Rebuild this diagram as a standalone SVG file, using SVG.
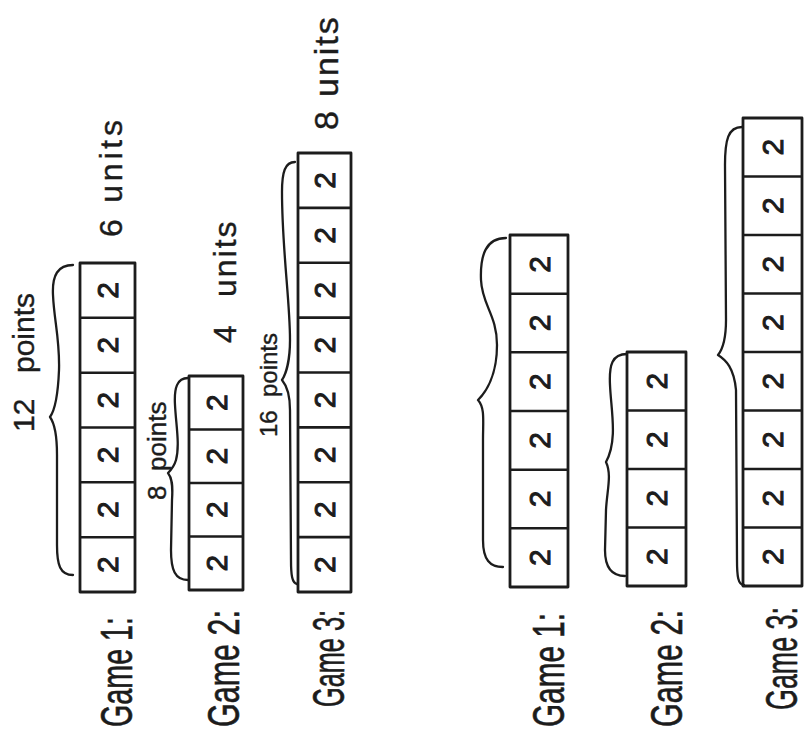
<svg xmlns="http://www.w3.org/2000/svg" width="809" height="731" viewBox="0 0 809 731">
<style>
.box{fill:#fff;stroke:#1c1c1c;stroke-width:2.8;stroke-linejoin:round}
.div{stroke:#1c1c1c;stroke-width:2.6;fill:none}
.brace{fill:none;stroke:#1c1c1c;stroke-width:2.3;stroke-linecap:round;stroke-linejoin:round}
.d{font-family:"Liberation Sans",Arial,sans-serif;font-size:30px;fill:#1c1c1c;stroke:#1c1c1c;stroke-width:1;text-anchor:middle;dominant-baseline:central}
.lbl{font-family:"Liberation Sans",Arial,sans-serif;font-size:44px;fill:#1c1c1c;stroke:#1c1c1c;stroke-width:0.6}
.ann{font-family:"Liberation Sans",Arial,sans-serif;fill:#1c1c1c;stroke:#1c1c1c;stroke-width:0.4}
</style>
<rect width="809" height="731" fill="#fff"/>

<!-- LEFT: Game 1 -->
<g id="left-game1">
<rect class="box" x="80" y="263" width="55" height="329"/>
<path class="div" d="M80 317.8H135M80 372.7H135M80 427.5H135M80 482.3H135M80 537.2H135"/>
<text class="d" transform="translate(107.5,290.4) rotate(-90)">2</text>
<text class="d" transform="translate(107.5,345.2) rotate(-90)">2</text>
<text class="d" transform="translate(107.5,400.1) rotate(-90)">2</text>
<text class="d" transform="translate(107.5,454.9) rotate(-90)">2</text>
<text class="d" transform="translate(107.5,509.7) rotate(-90)">2</text>
<text class="d" transform="translate(107.5,564.6) rotate(-90)">2</text>
<path class="brace" d="M73 265 C58 265 52 275 53 295 C54 320 60 340 59 370 C58 395 55 410 50 417 C55 424 57 435 57 455 L57 545 C57 565 60 575 73 575"/>
<text class="lbl" transform="translate(132,727) rotate(-90)" textLength="110" lengthAdjust="spacingAndGlyphs">Game 1:</text>
<text class="ann" font-size="30" transform="translate(34,432) rotate(-90)"><tspan x="0">12</tspan><tspan x="59">points</tspan></text>
<text class="ann" font-size="32" transform="translate(122,237) rotate(-90)" textLength="117" lengthAdjust="spacing">6 units</text>
</g>

<!-- LEFT: Game 2 -->
<g id="left-game2">
<rect class="box" x="189" y="376" width="54" height="214"/>
<path class="div" d="M189 429.5H243M189 483H243M189 536.5H243"/>
<text class="d" transform="translate(216,402.75) rotate(-90)">2</text>
<text class="d" transform="translate(216,456.25) rotate(-90)">2</text>
<text class="d" transform="translate(216,509.75) rotate(-90)">2</text>
<text class="d" transform="translate(216,563.25) rotate(-90)">2</text>
<path class="brace" d="M188 378 C177 378 174 388 175 405 C176 425 180 445 176 460 C174 467 171 470 168 473 C172 478 173 485 172 500 L171 550 C171 570 175 580 188 580"/>
<text class="lbl" transform="translate(239,727) rotate(-90)" textLength="117" lengthAdjust="spacingAndGlyphs">Game 2:</text>
<text class="ann" font-size="26" transform="translate(166,500) rotate(-90)"><tspan x="0">8</tspan><tspan x="29">points</tspan></text>
<text class="ann" font-size="32" transform="translate(236,343) rotate(-90)"><tspan x="0">4</tspan><tspan x="46" letter-spacing="2">units</tspan></text>
</g>

<!-- LEFT: Game 3 -->
<g id="left-game3">
<rect class="box" x="298" y="153" width="53" height="439"/>
<path class="div" d="M298 207.9H351M298 262.8H351M298 317.6H351M298 372.5H351M298 427.4H351M298 482.3H351M298 537.1H351"/>
<text class="d" transform="translate(324.5,180.4) rotate(-90)">2</text>
<text class="d" transform="translate(324.5,235.3) rotate(-90)">2</text>
<text class="d" transform="translate(324.5,290.2) rotate(-90)">2</text>
<text class="d" transform="translate(324.5,345.1) rotate(-90)">2</text>
<text class="d" transform="translate(324.5,400) rotate(-90)">2</text>
<text class="d" transform="translate(324.5,454.8) rotate(-90)">2</text>
<text class="d" transform="translate(324.5,509.7) rotate(-90)">2</text>
<text class="d" transform="translate(324.5,564.6) rotate(-90)">2</text>
<path class="brace" d="M295 162 C285 162 282 172 282 192 C282 250 290 300 290 340 C290 360 286 374 282 380 C287 386 290 395 290 410 L291 560 C291 575 292 583 297 584"/>
<text class="lbl" transform="translate(344,707) rotate(-90)" textLength="97" lengthAdjust="spacingAndGlyphs">Game 3:</text>
<text class="ann" font-size="24" transform="translate(277,437) rotate(-90)"><tspan x="0">16</tspan><tspan x="40">points</tspan></text>
<text class="ann" font-size="34" transform="translate(338,130) rotate(-90)"><tspan x="0">8</tspan><tspan x="33" letter-spacing="2">units</tspan></text>
</g>

<!-- RIGHT: Game 1 -->
<g id="right-game1">
<rect class="box" x="510" y="235" width="58" height="352"/>
<path class="div" d="M510 293.7H568M510 352.3H568M510 411H568M510 469.7H568M510 528.3H568"/>
<text class="d" transform="translate(539,264.3) rotate(-90)">2</text>
<text class="d" transform="translate(539,323) rotate(-90)">2</text>
<text class="d" transform="translate(539,381.7) rotate(-90)">2</text>
<text class="d" transform="translate(539,440.3) rotate(-90)">2</text>
<text class="d" transform="translate(539,499) rotate(-90)">2</text>
<text class="d" transform="translate(539,557.7) rotate(-90)">2</text>
<path class="brace" d="M506 238 C486 238 480 255 481 280 C482 305 497 315 497 345 C497 375 486 392 478 400 C485 408 483 420 483 440 L483 540 C483 560 490 567 503 567"/>
<text class="lbl" transform="translate(564,727) rotate(-90)" textLength="114" lengthAdjust="spacingAndGlyphs">Game 1:</text>
</g>

<!-- RIGHT: Game 2 -->
<g id="right-game2">
<rect class="box" x="627" y="352" width="59" height="234"/>
<path class="div" d="M627 410.5H686M627 469H686M627 527.5H686"/>
<text class="d" transform="translate(656.5,381.25) rotate(-90)">2</text>
<text class="d" transform="translate(656.5,439.75) rotate(-90)">2</text>
<text class="d" transform="translate(656.5,498.25) rotate(-90)">2</text>
<text class="d" transform="translate(656.5,556.75) rotate(-90)">2</text>
<path class="brace" d="M627 354 C612 354 609 365 610 385 C611 410 618 440 606 462 C612 475 607 490 606 510 L605 550 C605 568 612 576 625 576"/>
<text class="lbl" transform="translate(682,727) rotate(-90)" textLength="117" lengthAdjust="spacingAndGlyphs">Game 2:</text>
</g>

<!-- RIGHT: Game 3 -->
<g id="right-game3">
<rect class="box" x="743" y="118" width="59" height="468"/>
<path class="div" d="M743 176.5H802M743 235H802M743 293.5H802M743 352H802M743 410.5H802M743 469H802M743 527.5H802"/>
<text class="d" transform="translate(772.5,147.25) rotate(-90)">2</text>
<text class="d" transform="translate(772.5,205.75) rotate(-90)">2</text>
<text class="d" transform="translate(772.5,264.25) rotate(-90)">2</text>
<text class="d" transform="translate(772.5,322.75) rotate(-90)">2</text>
<text class="d" transform="translate(772.5,381.25) rotate(-90)">2</text>
<text class="d" transform="translate(772.5,439.75) rotate(-90)">2</text>
<text class="d" transform="translate(772.5,498.25) rotate(-90)">2</text>
<text class="d" transform="translate(772.5,556.75) rotate(-90)">2</text>
<path class="brace" d="M742 127 C728 127 725 140 725 165 L726 320 C726 340 722 350 718 355 C726 360 734 368 736 390 L737 560 C737 576 738 585 744 585"/>
<text class="lbl" transform="translate(797,710) rotate(-90)" textLength="103" lengthAdjust="spacingAndGlyphs">Game 3:</text>
</g>

<g id="connectors"></g>
</svg>
